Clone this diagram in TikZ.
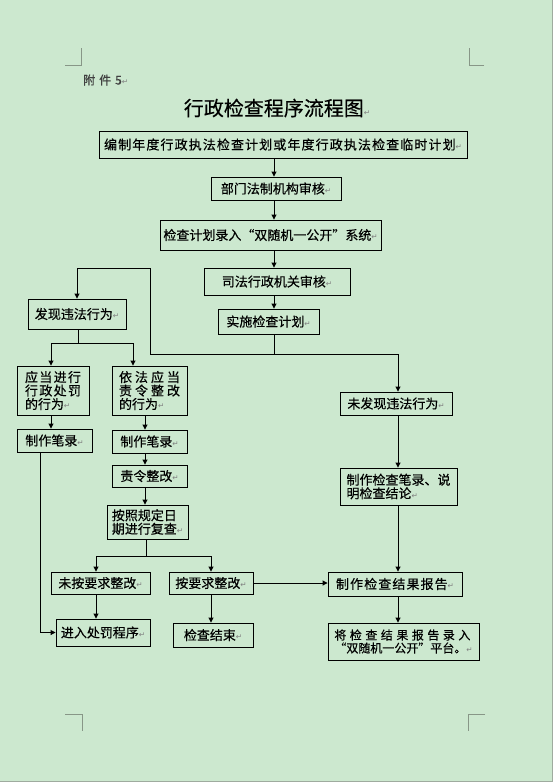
\documentclass[tikz,border=0pt]{standalone}
\usepackage{fontspec}
\usetikzlibrary{arrows.meta}
\newfontfamily\cjk[FakeBold=0.35]{Noto Sans CJK SC}
\newfontfamily\cjkwide[FakeBold=0.35,LetterSpace=8.5]{Noto Sans CJK SC}
\newfontfamily\dejavu{DejaVu Sans}
\definecolor{bg}{RGB}{204,232,207}
\definecolor{cornermk}{RGB}{135,150,135}
\newcommand\pmk{{\dejavu\fontsize{7.5}{7.5}\selectfont\textcolor{gray}{↵}}}
\newcommand\spr[2]{\makebox[#1pt][s]{#2}}
\begin{document}
\begin{tikzpicture}[x=1pt,y=-1pt,
  box/.style={draw=black,line width=0.9pt,inner sep=0pt,align=left,font=\cjk\fontsize{13}{13.5}\selectfont},
  arr/.style={line width=0.9pt,-{Triangle[length=5pt,width=5pt]}},
  ln/.style={line width=0.9pt},
  cornerln/.style={draw=cornermk,line width=1pt}]
\fill[bg] (0,0) rectangle (553,782);
\useasboundingbox (0,0) rectangle (553,782);
\draw[cornermk!80,line width=1pt] (552.5,0) -- (552.5,782);
\draw[cornermk!80,line width=1pt] (0,781.5) -- (553,781.5);
% corner marks
\draw[cornerln] (65,65) -- (81,65) -- (81,48);
\draw[cornerln] (484,65) -- (469,65) -- (469,48);
\draw[cornerln] (65,714) -- (82,714) -- (82,731);
\draw[cornerln] (485,714) -- (468,714) -- (468,731);
% header texts
\node[anchor=west,inner sep=0pt,text=black!75,font=\cjk\fontsize{12}{12}\selectfont] (fj) at (83,80) {附\hspace{4pt}件\hspace{4pt}5\pmk};
\node[inner sep=0pt,font=\cjk\fontsize{20}{22}\selectfont] (title) at (277,108) {行政检查程序流程图\pmk};
% boxes
\node[box,minimum width=368,minimum height=27] (A) at (283,144.5) {\cjkwide 编制年度行政执法检查计划或年度行政执法检查临时计划\pmk};
\node[box,minimum width=130,minimum height=23] (B) at (276,188.5) {部门法制机构审核\pmk};
\node[box,minimum width=221,minimum height=30] (C) at (270.5,235) {检查计划录入“双随机一公开”系统\pmk};
\node[box,minimum width=146,minimum height=27] (D) at (277,281.5) {司法行政机关审核\pmk};
\node[box,minimum width=101,minimum height=25] (E) at (268.5,321.5) {实施检查计划\pmk};
\node[box,minimum width=98,minimum height=30] (F) at (77,314) {发现违法行为\pmk};
\node[box,minimum width=112,minimum height=23] (G) at (396,403.5) {未发现违法行为\pmk};
\node[box,minimum width=117,minimum height=37] (H) at (398.5,486.5) {制作检查笔录、说\\明检查结论\pmk};
\node[box,minimum width=72,minimum height=49] (I) at (53,390.5) {\spr{56}{应\hfill 当\hfill 进\hfill 行}\\\spr{56}{行\hfill 政\hfill 处\hfill 罚}\\的行为\pmk};
\node[box,minimum width=75,minimum height=49] (J) at (149.5,390.5) {\spr{61}{依\hfill 法\hfill 应\hfill 当}\\\spr{61}{责\hfill 令\hfill 整\hfill 改}\\的行为\pmk};
\node[box,minimum width=75,minimum height=23] (K) at (54.5,440.5) {制作笔录\pmk};
\node[box,minimum width=75,minimum height=23] (L) at (149.5,441.5) {制作笔录\pmk};
\node[box,minimum width=75,minimum height=22] (M) at (149.5,476) {责令整改\pmk};
\node[box,minimum width=81,minimum height=34] (N) at (147.5,522) {按照规定日\\期进行复查\pmk};
\node[box,minimum width=99,minimum height=22] (O) at (100.5,583) {未按要求整改\pmk};
\node[box,minimum width=84,minimum height=22] (P) at (211,583) {按要求整改\pmk};
\node[box,minimum width=94,minimum height=27] (Q) at (103,632.5) {进入处罚程序\pmk};
\node[box,minimum width=80,minimum height=24] (R) at (213,635) {检查结束\pmk};
\node[box,minimum width=134,minimum height=24] (S) at (395,584) {\cjkwide 制作检查结果报告\pmk};
\node[box,minimum width=151,minimum height=37,font=\cjk\fontsize{12}{13}\selectfont] (T) at (403.5,641.5) {\spr{136}{将\hfill 检\hfill 查\hfill 结\hfill 果\hfill 报\hfill 告\hfill 录\hfill 入}\\“双随机一公开”平台。\pmk};
% helper coordinates
\coordinate (ax) at (274,0);
\coordinate (bx) at (398,0);
\coordinate (j1) at (274,354);
\coordinate (lp) at (150,268);
\coordinate (j2) at (78,343);
\coordinate (ix) at (51,0);
\coordinate (jx) at (133,0);
\coordinate (lx) at (145,0);
\coordinate (j3) at (146,556);
\coordinate (ox) at (96,0);
\coordinate (px) at (211,0);
\coordinate (kx) at (40,0);
% connectors
\draw[arr] (A.south -| ax) -- (B.north -| ax);
\draw[arr] (B.south -| ax) -- (C.north -| ax);
\draw[arr] (C.south -| ax) -- (D.north -| ax);
\draw[arr] (D.south -| ax) -- (E.north -| ax);
\draw[ln] (E.south -| ax) -- (j1);
\draw[arr] (j1) -- (j1 -| bx) -- (G.north -| bx);
\draw[arr] (j1) -- (j1 -| lp) -- (lp) -- (lp -| F.north) -- (F.north);
\draw[ln] (F.south -| j2) -- (j2);
\draw[arr] (j2) -- (j2 -| ix) -- (I.north -| ix);
\draw[arr] (j2) -- (j2 -| jx) -- (J.north -| jx);
\draw[arr] (I.south -| ix) -- (K.north -| ix);
\draw[arr] (J.south -| lx) -- (L.north -| lx);
\draw[arr] (L.south -| lx) -- (M.north -| lx);
\draw[arr] (M.south -| lx) -- (N.north -| lx);
\draw[ln] (N.south -| j3) -- (j3);
\draw[arr] (j3) -- (j3 -| ox) -- (O.north -| ox);
\draw[arr] (j3) -- (j3 -| px) -- (P.north -| px);
\draw[arr] (O.south -| ox) -- (Q.north -| ox);
\draw[arr] (P.south -| px) -- (R.north -| px);
\draw[arr] (K.south -| kx) -- (kx |- Q.west) -- (Q.west);
\draw[arr] (P.east) -- (S.west |- P.east);
\draw[arr] (G.south -| bx) -- (H.north -| bx);
\draw[arr] (H.south -| bx) -- (S.north -| bx);
\draw[arr] (S.south -| bx) -- (T.north -| bx);
\end{tikzpicture}
\end{document}
